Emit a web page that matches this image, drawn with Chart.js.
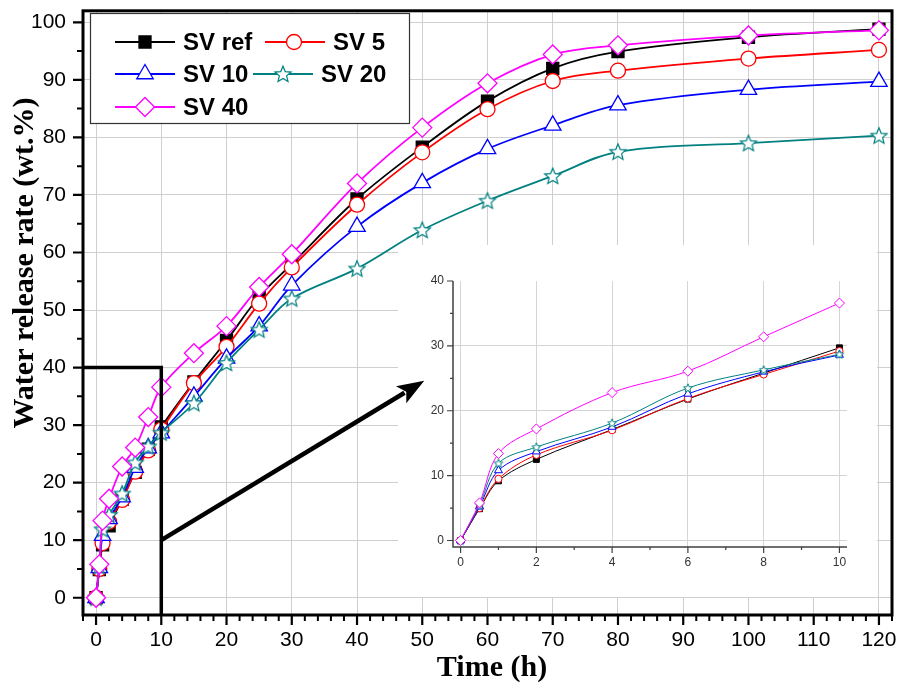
<!DOCTYPE html>
<html>
<head>
<meta charset="utf-8">
<title>Water release rate</title>
<script src="https://cdn.jsdelivr.net/npm/chart.js@4.4.1/dist/chart.umd.min.js"></script>
<style>
  html, body { margin: 0; padding: 0; background: #ffffff; }
  #wrap { position: relative; width: 905px; height: 690px; overflow: hidden; }
  #main { position: absolute; left: 0; top: 0; }
  #inset { position: absolute; }
</style>
</head>
<body>
<div id="wrap">
  <canvas id="main" width="905" height="690"></canvas>
  <canvas id="inset"></canvas>
</div>
<script>
// ---- data (time in hours, release in wt.%) ----
const timeH = [0, 0.5, 1, 2, 4, 6, 8, 10, 15, 20, 25, 30, 40, 50, 60, 70, 80, 100, 120];
const svRef = [0, 4.9, 9.2, 12.5, 17.1, 21.8, 25.8, 29.7, 37.5, 44.7, 52.3, 58.0, 69.3, 78.3, 86.3, 92.0, 94.9, 97.4, 98.8];
const sv5   = [0, 5.0, 9.5, 13.2, 17.0, 21.9, 25.6, 29.2, 37.3, 43.6, 51.1, 57.4, 68.3, 77.4, 84.9, 89.8, 91.6, 93.7, 95.2];
const sv10  = [0, 5.2, 10.8, 13.7, 17.5, 22.6, 26.0, 28.6, 35.0, 41.6, 47.2, 54.3, 64.5, 72.1, 78.0, 82.1, 85.6, 88.3, 89.7];
const sv20  = [0, 5.5, 11.9, 14.4, 18.1, 23.5, 26.3, 28.7, 33.8, 40.8, 46.6, 52.0, 57.2, 63.9, 69.0, 73.3, 77.5, 79.0, 80.3];
const sv40  = [0, 5.8, 13.4, 17.2, 22.8, 26.1, 31.4, 36.6, 42.5, 47.2, 54.0, 59.7, 72.0, 81.7, 89.4, 94.4, 96.0, 97.7, 98.6];
const seriesNames = ['SV ref', 'SV 5', 'SV 10', 'SV 20', 'SV 40'];
const seriesValues = [svRef, sv5, sv10, sv20, sv40];

// tick labels
const xTickValues = [0, 10, 20, 30, 40, 50, 60, 70, 80, 90, 100, 110, 120];
const yTickValues = [0, 10, 20, 30, 40, 50, 60, 70, 80, 90, 100];
const insetXTickValues = [0, 2, 4, 6, 8, 10];
const insetYTickValues = [0, 10, 20, 30, 40];
const insetMaxTime = 10;

// ---- layout / style ----
const INSET_BOX = { x: 398, y: 245, w: 479, h: 352 };
const TICK_FONT = "'Liberation Sans', Arial, sans-serif";
const TITLE_FONT = "'Liberation Serif', 'Times New Roman', serif";

function starImage(outerR, color, lw) {
  const pad = lw + 1;
  const s = Math.ceil(2 * (outerR + pad));
  const c = document.createElement('canvas');
  c.width = s; c.height = s;
  const g = c.getContext('2d');
  const cx = s / 2, cy = s / 2 + outerR * 0.08;
  const innerR = outerR * 0.45;
  g.beginPath();
  for (let i = 0; i < 10; i++) {
    const r = i % 2 ? innerR : outerR;
    const a = -Math.PI / 2 + i * Math.PI / 5;
    const px = cx + r * Math.cos(a), py = cy + r * Math.sin(a);
    if (i === 0) g.moveTo(px, py); else g.lineTo(px, py);
  }
  g.closePath();
  g.fillStyle = '#ffffff';
  g.fill();
  g.lineWidth = lw;
  g.strokeStyle = color;
  g.stroke();
  return c;
}

const seriesColors = ['#000000', '#ff0000', '#0000ff', '#008080', '#ff00ff'];
const mainMarkers = [
  { style: 'rect', fill: '#000000', r: 8.5 },
  { style: 'circle', fill: '#ffffff', r: 7.5 },
  { style: 'triangle', fill: '#ffffff', r: 9.5 },
  { style: starImage(8.5, '#008080', 1.2), fill: '#ffffff', r: 9 },
  { style: 'rectRot', fill: '#ffffff', r: 9.5 }
];
const insetMarkers = [
  { style: 'rect', fill: '#000000', r: 4.2 },
  { style: 'circle', fill: '#ffffff', r: 3.6 },
  { style: 'triangle', fill: '#ffffff', r: 4.6 },
  { style: starImage(4.6, '#008080', 1), fill: '#ffffff', r: 4.6 },
  { style: 'rectRot', fill: '#ffffff', r: 5 }
];

function buildDatasets(markers, lineWidth, borderW, maxT) {
  return seriesNames.map((name, k) => {
    const pts = [];
    timeH.forEach((t, i) => { if (maxT === undefined || t <= maxT) pts.push({ x: t, y: seriesValues[k][i] }); });
    return {
      label: name,
      data: pts,
      borderColor: seriesColors[k],
      borderWidth: lineWidth,
      backgroundColor: markers[k].fill,
      pointStyle: markers[k].style,
      pointRadius: markers[k].r,
      pointBorderColor: seriesColors[k],
      pointBackgroundColor: markers[k].fill,
      pointBorderWidth: borderW,
      tension: 0.35,
      fill: false,
      clip: false,
      order: seriesNames.length - k
    };
  });
}

function tickMarks(ctx, scale, values, len, lw, color) {
  const ca = scale.chart.chartArea;
  ctx.save();
  ctx.strokeStyle = color;
  ctx.lineWidth = lw;
  ctx.beginPath();
  values.forEach(v => {
    const p = scale.getPixelForValue(v);
    if (scale.isHorizontal()) { ctx.moveTo(p, ca.bottom); ctx.lineTo(p, ca.bottom + len); }
    else { ctx.moveTo(ca.left, p); ctx.lineTo(ca.left - len, p); }
  });
  ctx.stroke();
  ctx.restore();
}

function rangeStep(a, b, step, skipEvery) {
  const out = [];
  for (let v = a; v <= b + 1e-9; v += step) {
    const r = Math.round(v * 1000) / 1000;
    if (skipEvery && Math.abs(r / skipEvery - Math.round(r / skipEvery)) < 1e-9) continue;
    out.push(r);
  }
  return out;
}

// keep the plot area fixed: no extra room reserved for overhanging tick labels
function fixBox(size) {
  return function (scale) {
    if (scale.isHorizontal()) scale.height = size; else scale.width = size;
    scale.paddingTop = 0; scale.paddingBottom = 0;
    scale.paddingLeft = 0; scale.paddingRight = 0;
  };
}

function drawMarker(ctx, style, radius, x, y, color, fill, bw) {
  ctx.save();
  ctx.fillStyle = fill;
  ctx.strokeStyle = color;
  ctx.lineWidth = bw;
  if (Chart.helpers && Chart.helpers.drawPoint) {
    Chart.helpers.drawPoint(ctx, { pointStyle: style, rotation: 0, radius: radius, borderWidth: bw }, x, y);
  } else if (typeof style !== 'string') {
    ctx.drawImage(style, x - style.width / 2, y - style.height / 2);
  }
  ctx.restore();
}

// ---- main chart extras: inset backdrop, zoom-window lines, arrow, frame, ticks, legend, titles ----
const mainExtras = {
  id: 'mainExtras',
  beforeDatasetsDraw(chart) {
    const ctx = chart.ctx;
    ctx.save();
    ctx.fillStyle = '#ffffff';
    ctx.fillRect(INSET_BOX.x, INSET_BOX.y, INSET_BOX.w, INSET_BOX.h);
    ctx.restore();
  },
  afterDatasetsDraw(chart) {
    const ctx = chart.ctx;
    const xs = chart.scales.x, ys = chart.scales.y;
    const ca = chart.chartArea;

    // zoom window outline (0-10 h, 0-40 %)
    ctx.save();
    ctx.strokeStyle = '#000000';
    ctx.lineWidth = 3.5;
    ctx.beginPath();
    ctx.moveTo(ca.left, ys.getPixelForValue(40));
    ctx.lineTo(xs.getPixelForValue(10), ys.getPixelForValue(40));
    ctx.lineTo(xs.getPixelForValue(10), ca.bottom);
    ctx.stroke();

    // arrow pointing at the inset
    const x0 = xs.getPixelForValue(10), y0 = ys.getPixelForValue(10);
    const x1 = xs.getPixelForValue(50.3), y1 = ys.getPixelForValue(37.7);
    const ang = Math.atan2(y1 - y0, x1 - x0);
    const headL = 27, headW = 10;
    const bx = x1 - headL * Math.cos(ang), by = y1 - headL * Math.sin(ang);
    ctx.lineWidth = 4.5;
    ctx.beginPath();
    ctx.moveTo(x0, y0);
    ctx.lineTo(bx + 4 * Math.cos(ang), by + 4 * Math.sin(ang));
    ctx.stroke();
    ctx.fillStyle = '#000000';
    ctx.beginPath();
    ctx.moveTo(x1, y1);
    ctx.lineTo(bx + headW * Math.sin(ang), by - headW * Math.cos(ang));
    ctx.lineTo(bx + 6 * Math.cos(ang), by + 6 * Math.sin(ang));
    ctx.lineTo(bx - headW * Math.sin(ang), by + headW * Math.cos(ang));
    ctx.closePath();
    ctx.fill();
    ctx.restore();

    // frame
    ctx.save();
    ctx.strokeStyle = '#000000';
    ctx.lineWidth = 3;
    ctx.strokeRect(ca.left, ca.top, ca.right - ca.left, ca.bottom - ca.top);
    ctx.restore();

    // tick marks
    tickMarks(ctx, xs, xTickValues, 10, 2.2, '#000000');
    tickMarks(ctx, xs, rangeStep(-2, 122, 2, 10), 6, 2, '#000000');
    tickMarks(ctx, ys, yTickValues, 10, 2.2, '#000000');
    tickMarks(ctx, ys, rangeStep(5, 95, 10), 6, 2, '#000000');

    // legend
    ctx.save();
    ctx.fillStyle = '#ffffff';
    ctx.fillRect(90, 13, 319, 110);
    ctx.strokeStyle = '#333333';
    ctx.lineWidth = 1.2;
    ctx.strokeRect(90.5, 13.5, 319, 110);
    const entries = [
      { k: 0, lx: 115, mx: 145, tx: 183, y: 42 },
      { k: 1, lx: 265, mx: 294, tx: 333, y: 42 },
      { k: 2, lx: 115, mx: 145, tx: 183, y: 74 },
      { k: 3, lx: 253, mx: 283, tx: 321, y: 74 },
      { k: 4, lx: 115, mx: 145, tx: 183, y: 107 }
    ];
    ctx.font = "bold 24px " + TICK_FONT;
    ctx.textBaseline = 'middle';
    ctx.textAlign = 'left';
    entries.forEach(e => {
      const m = mainMarkers[e.k];
      ctx.strokeStyle = seriesColors[e.k];
      ctx.lineWidth = 1.8;
      ctx.beginPath();
      ctx.moveTo(e.lx, e.y);
      ctx.lineTo(e.lx + 60, e.y);
      ctx.stroke();
      drawMarker(ctx, m.style, m.r, e.mx, e.y, seriesColors[e.k], m.fill, 1.3);
      ctx.fillStyle = '#000000';
      ctx.fillText(seriesNames[e.k], e.tx, e.y + 1);
    });
    ctx.restore();

    // axis titles
    ctx.save();
    ctx.fillStyle = '#000000';
    ctx.font = "bold 30px " + TITLE_FONT;
    ctx.textAlign = 'center';
    ctx.textBaseline = 'middle';
    ctx.fillText('Time (h)', 492, 668);
    ctx.translate(25, 263);
    ctx.rotate(-Math.PI / 2);
    ctx.fillText('Water release rate (wt.%)', 0, 0);
    ctx.restore();
  }
};

const mainChart = new Chart(document.getElementById('main'), {
  type: 'line',
  data: { datasets: buildDatasets(mainMarkers, 1.8, 1.3) },
  options: {
    responsive: false,
    animation: false,
    devicePixelRatio: 1,
    layout: { padding: { top: 9, right: 13, left: 0, bottom: 0 } },
    plugins: { legend: { display: false }, tooltip: { enabled: false } },
    scales: {
      x: {
        type: 'linear',
        min: -2, max: 122,
        afterBuildTicks(scale) { scale.ticks = xTickValues.map(v => ({ value: v })); },
        afterFit: fixBox(75),
        grid: { color: '#cfcfcf', lineWidth: 1, drawTicks: false },
        border: { display: false },
        ticks: { font: { family: TICK_FONT, size: 21 }, color: '#000000', padding: 13, maxRotation: 0, autoSkip: false }
      },
      y: {
        type: 'linear',
        min: -3, max: 102,
        afterBuildTicks(scale) { scale.ticks = yTickValues.map(v => ({ value: v })); },
        afterFit: fixBox(83),
        grid: { color: '#cfcfcf', lineWidth: 1, drawTicks: false },
        border: { display: false },
        ticks: { font: { family: TICK_FONT, size: 21 }, color: '#000000', padding: 17, autoSkip: false }
      }
    }
  },
  plugins: [mainExtras]
});

// ---- inset: first 10 hours ----
const insetCanvas = document.getElementById('inset');
insetCanvas.width = INSET_BOX.w;
insetCanvas.height = INSET_BOX.h;
insetCanvas.style.left = INSET_BOX.x + 'px';
insetCanvas.style.top = INSET_BOX.y + 'px';

const insetExtras = {
  id: 'insetExtras',
  afterDatasetsDraw(chart) {
    const ctx = chart.ctx;
    const xs = chart.scales.x, ys = chart.scales.y;
    const ca = chart.chartArea;
    ctx.save();
    ctx.strokeStyle = '#404040';
    ctx.lineWidth = 1.5;
    ctx.beginPath();
    ctx.moveTo(ca.left, ca.top);
    ctx.lineTo(ca.left, ca.bottom);
    ctx.lineTo(ca.right, ca.bottom);
    ctx.stroke();
    ctx.restore();
    tickMarks(ctx, xs, insetXTickValues, 6, 1.2, '#404040');
    tickMarks(ctx, xs, rangeStep(1, 9, 2), 3, 1.2, '#404040');
    tickMarks(ctx, ys, insetYTickValues, 6, 1.2, '#404040');
    tickMarks(ctx, ys, rangeStep(5, 35, 10), 3, 1.2, '#404040');
  }
};

const insetChart = new Chart(insetCanvas, {
  type: 'line',
  data: { datasets: buildDatasets(insetMarkers, 1, 1, insetMaxTime) },
  options: {
    responsive: false,
    animation: false,
    devicePixelRatio: 1,
    layout: { padding: { top: 36, right: 30, left: 0, bottom: 0 } },
    plugins: { legend: { display: false }, tooltip: { enabled: false } },
    scales: {
      x: {
        type: 'linear',
        min: -0.2, max: 10.2,
        afterBuildTicks(scale) { scale.ticks = insetXTickValues.map(v => ({ value: v })); },
        afterFit: fixBox(50),
        grid: { color: '#d4d4d4', lineWidth: 1, drawTicks: false },
        border: { display: false },
        ticks: { font: { family: TICK_FONT, size: 12 }, color: '#333333', padding: 8, maxRotation: 0, autoSkip: false }
      },
      y: {
        type: 'linear',
        min: -1, max: 40,
        afterBuildTicks(scale) { scale.ticks = insetYTickValues.map(v => ({ value: v })); },
        afterFit: fixBox(55),
        grid: {
          color: (c) => (c.tick && c.tick.value === 40 ? 'rgba(0,0,0,0)' : '#d4d4d4'),
          lineWidth: 1, drawTicks: false
        },
        border: { display: false },
        ticks: { font: { family: TICK_FONT, size: 12 }, color: '#333333', padding: 9, autoSkip: false }
      }
    }
  },
  plugins: [insetExtras]
});
</script>
</body>
</html>
